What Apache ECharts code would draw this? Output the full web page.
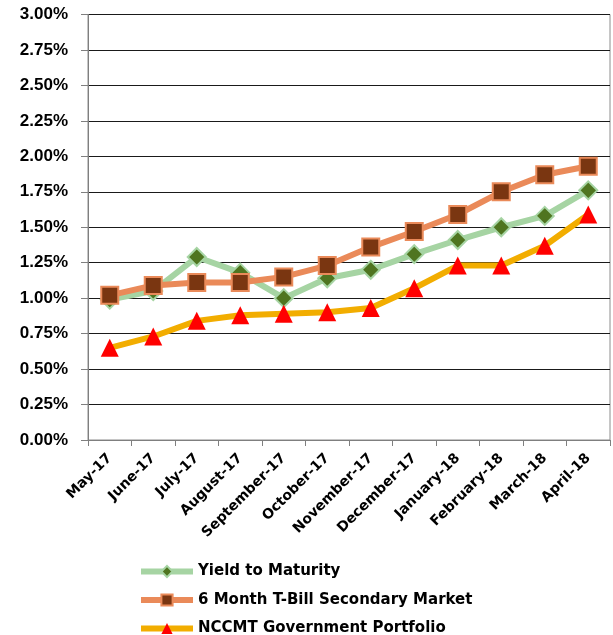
<!DOCTYPE html>
<html>
<head>
<meta charset="utf-8">
<script src="https://cdn.jsdelivr.net/npm/echarts@6/dist/echarts.min.js"></script>
<style>
  html, body { margin: 0; padding: 0; background: #fff; }
  #chart { width: 613px; height: 635px; }
</style>
</head>
<body>
<div id="chart"></div>
<script>
const months = ['May-17', 'June-17', 'July-17', 'August-17', 'September-17', 'October-17',
  'November-17', 'December-17', 'January-18', 'February-18', 'March-18', 'April-18']
const yieldToMaturity = [0.99, 1.05, 1.29, 1.18, 1.00, 1.14, 1.20, 1.31, 1.41, 1.50, 1.58, 1.76]
const tBill = [1.02, 1.09, 1.11, 1.11, 1.15, 1.23, 1.36, 1.47, 1.59, 1.75, 1.87, 1.93]
const nccmt = [0.65, 0.73, 0.84, 0.88, 0.89, 0.90, 0.93, 1.07, 1.23, 1.23, 1.37, 1.59]

const font = 'DejaVu Sans'
const chart = echarts.init(document.getElementById('chart'))

chart.setOption({
  animation: false,
  grid: {
    left: 88, right: 3, top: 14.5, bottom: 195,
    show: true, borderColor: '#8c8c8c', borderWidth: 1
  },
  legend: {
    orient: 'vertical',
    left: 138, top: 564, padding: 0, height: 100,
    itemWidth: 52, itemHeight: 14, itemGap: 13.5,
    lineStyle: { width: 6 },
    textStyle: { fontFamily: font, fontWeight: 'bold', fontSize: 15, color: '#000' },
    data: ['Yield to Maturity', '6 Month T-Bill Secondary Market', 'NCCMT Government Portfolio']
  },
  xAxis: {
    type: 'category',
    data: months,
    boundaryGap: true,
    axisLine: { lineStyle: { color: '#7f7f7f', width: 1 } },
    axisTick: { show: true, inside: false, length: 6, alignWithLabel: false, lineStyle: { color: '#7f7f7f' } },
    axisLabel: {
      rotate: 45, margin: 16, interval: 0,
      fontFamily: font, fontWeight: 'bold', fontSize: 14, color: '#000'
    }
  },
  yAxis: {
    type: 'value',
    min: 0, max: 3, interval: 0.25,
    axisLine: { show: true, lineStyle: { color: '#7f7f7f' } },
    axisTick: { show: true, length: 7, lineStyle: { color: '#7f7f7f' } },
    splitLine: { lineStyle: { color: '#1a1a1a', width: 1 } },
    axisLabel: {
      margin: 20,
      fontFamily: 'Liberation Sans', fontWeight: 'bold', fontSize: 17, color: '#000',
      formatter: v => v.toFixed(2) + '%'
    }
  },
  series: [
    {
      name: 'Yield to Maturity', type: 'line', data: yieldToMaturity, z: 2,
      symbol: 'diamond', symbolSize: 18,
      lineStyle: { color: '#a6d4a3', width: 6 },
      itemStyle: { color: '#4f7520', borderColor: '#a6d4a3', borderWidth: 2 }
    },
    {
      name: '6 Month T-Bill Secondary Market', type: 'line', data: tBill, z: 3,
      symbol: 'rect', symbolSize: 17,
      lineStyle: { color: '#ea8a59', width: 6 },
      itemStyle: { color: '#7a3611', borderColor: '#ea8a59', borderWidth: 2 }
    },
    {
      name: 'NCCMT Government Portfolio', type: 'line', data: nccmt, z: 4,
      symbol: 'triangle', symbolSize: 18,
      lineStyle: { color: '#f2ad00', width: 6 },
      itemStyle: { color: '#ff0000', borderWidth: 0 }
    }
  ]
})
</script>
</body>
</html>
